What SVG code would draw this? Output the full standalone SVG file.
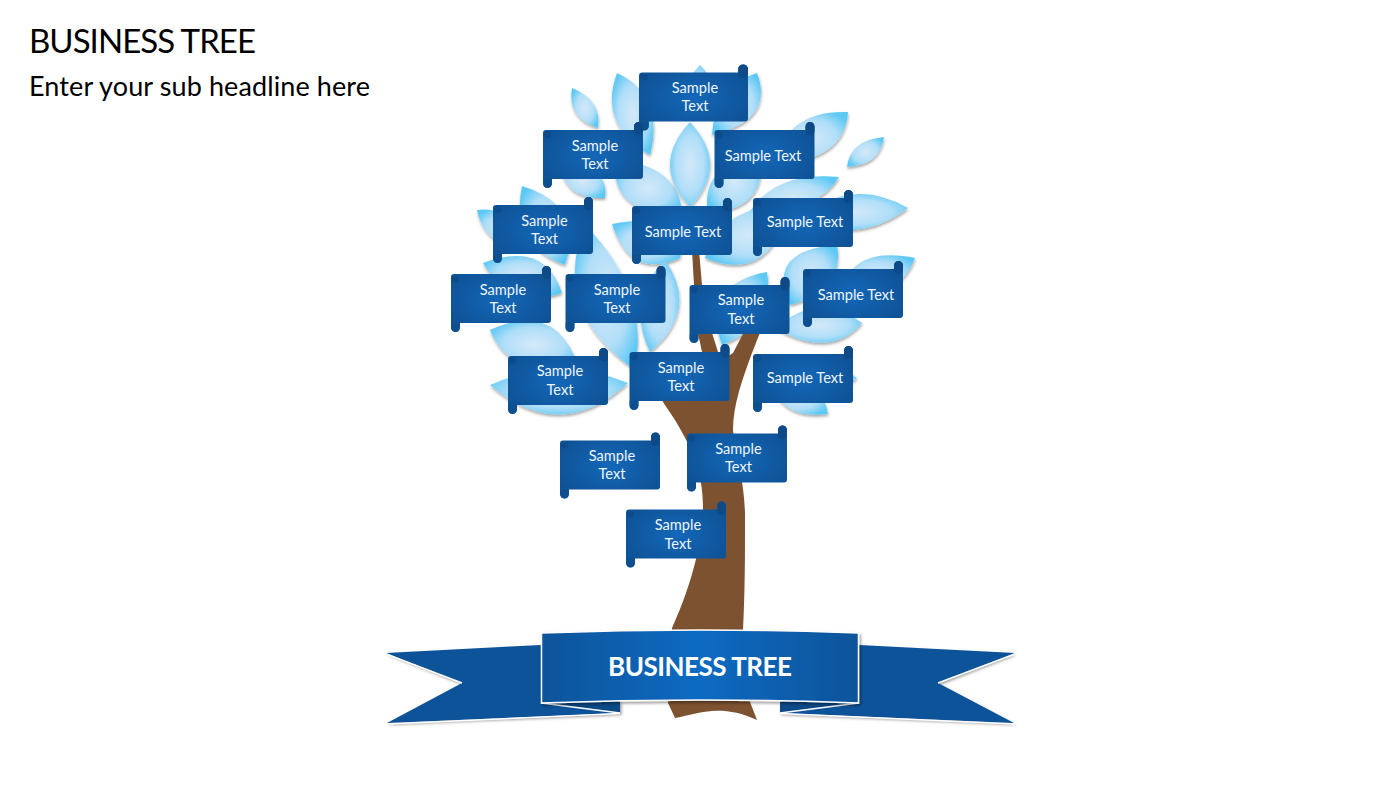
<svg xmlns="http://www.w3.org/2000/svg" xmlns:xlink="http://www.w3.org/1999/xlink" width="1400" height="788" viewBox="0 0 1400 788">
<style>
.title{font-family:Lato,"Liberation Sans",sans-serif;fill:#000}
.lf{fill:url(#leafG);filter:url(#ls)}
.t{font-family:Lato,"Liberation Sans",sans-serif;font-size:14.6px;fill:#eef6fb;text-anchor:middle}
.tail{fill:#0f5399;filter:url(#rs)}
.hl{fill:none;stroke:#fff;stroke-width:1.5}
.fold{fill:#0c4a86}
</style>
<defs>
<radialGradient id="leafG" cx="50%" cy="50%" r="58%"><stop offset="0" stop-color="#d4e9f9"/><stop offset=".6" stop-color="#b0def8"/><stop offset="1" stop-color="#5cc8f4"/></radialGradient>
<radialGradient id="cardG" cx="50%" cy="50%" r="55%"><stop offset="0" stop-color="#1367b8"/><stop offset="1" stop-color="#0f5397"/></radialGradient>
<linearGradient id="banG" x1="0" x2="1" y1="0" y2="0"><stop offset="0" stop-color="#10549a"/><stop offset=".5" stop-color="#106ac2"/><stop offset="1" stop-color="#10549a"/></linearGradient>
<filter id="ls" x="-20%" y="-20%" width="140%" height="140%"><feDropShadow dx="0.5" dy="2" stdDeviation="1.5" flood-color="#000" flood-opacity=".35"/></filter>
<filter id="rs" x="-5%" y="-10%" width="110%" height="125%"><feDropShadow dx="1.5" dy="2" stdDeviation="1.5" flood-color="#000" flood-opacity=".4"/></filter>
<g id="card">
<path fill="url(#cardG)" d="M3,0H91V-3.500A4.500,4.500 0 0 1 100,-3.500V46A3,3 0 0 1 97,49H9V53.500A4.500,4.500 0 0 1 0,53.500V3A3,3 0 0 1 3,0Z"/>
<path fill="#0d4a87" d="M91,0V-3.500A4.500,4.500 0 0 1 100,-3.500V1.500A4.500,4.500 0 0 1 91,0Z"/>
<circle cx="4.500" cy="4.500" r="3.500" fill="#0d4c8c"/>
<path fill="#0d4c8c" d="M0,49H9V53.500A4.500,4.500 0 0 1 0,53.500Z" opacity=".6"/>
</g>
</defs>

<rect width="1400" height="788" fill="#fff"/>
<text class="title" x="29" y="53" font-size="33" textLength="227" lengthAdjust="spacing">BUSINESS TREE</text>
<text class="title" x="29" y="96" font-size="27" textLength="341" lengthAdjust="spacing">Enter your sub headline here</text>

<g id="leaves">
<path class="lf" d="M572,88Q602,100 598,128Q567,118 572,88Z"/>
<path class="lf" d="M617,73Q665,95 650,155Q598,125 617,73Z"/>
<path class="lf" d="M700,65Q725,90 695,115Q675,90 700,65Z"/>
<path class="lf" d="M757,73Q775,120 712,135Q715,85 757,73Z"/>
<path class="lf" d="M848,112Q845,160 775,165Q785,110 848,112Z"/>
<path class="lf" d="M884,137Q880,165 847,167Q850,140 884,137Z"/>
<path class="lf" d="M839,177Q820,210 745,220Q770,170 839,177Z"/>
<path class="lf" d="M708,213Q770,210 760,150Q700,165 708,213Z"/>
<path class="lf" d="M908,208Q860,245 800,220Q850,175 908,208Z"/>
<path class="lf" d="M705,258Q770,285 790,205Q720,205 705,258Z"/>
<path class="lf" d="M915,258Q900,300 840,295Q850,245 915,258Z"/>
<path class="lf" d="M837,245Q845,290 790,305Q765,250 837,245Z"/>
<path class="lf" d="M862,323Q830,360 775,328Q820,290 862,323Z"/>
<path class="lf" d="M767,272Q775,325 722,345Q700,285 767,272Z"/>
<path class="lf" d="M857,378Q830,400 800,380Q830,355 857,378Z"/>
<path class="lf" d="M828,414Q780,420 770,380Q820,370 828,414Z"/>
<path class="lf" d="M477,210Q510,205 530,245Q485,250 477,210Z"/>
<path class="lf" d="M522,186Q585,205 565,265Q510,245 522,186Z"/>
<path class="lf" d="M560,165Q610,165 605,198Q565,200 560,165Z"/>
<path class="lf" d="M615,160Q680,165 682,215Q610,215 615,160Z"/>
<path class="lf" d="M612,224Q690,210 680,258Q630,280 612,224Z"/>
<path class="lf" d="M585,225Q650,290 635,370Q550,310 585,225Z"/>
<path class="lf" d="M665,260Q700,310 650,352Q625,300 665,260Z"/>
<path class="lf" d="M483,263Q545,240 562,293Q510,310 483,263Z"/>
<path class="lf" d="M490,330Q555,300 578,365Q510,380 490,330Z"/>
<path class="lf" d="M490,385Q560,355 628,383Q560,445 490,385Z"/>
<path class="lf" d="M690,122Q730,165 690,207Q650,165 690,122Z"/>
</g>

<g id="trunk">
<path fill="#7d5230" d="M672,628C685,600 703,550 703,507C703,470 690,445 675,420L663,402L650,375L690,370L702,352L698,333L694,285L692,250H699L702,285L708,325L712,333L718,352L725,358L733,353L745,330H761L752,353C742,380 733,405 733,430C735,455 745,480 745,517C745,560 745,590 743,630L750,702L757,720C740,712 725,710 712,711C700,712 690,715 675,718L668,703Z"/>
</g>

<g id="ribbon">
<path class="tail" d="M386,653L541,645L620,702V713L387,723L462,683Z"/>
<path class="tail" d="M1015,653L859,645L780,702V713L1014,723L938,683Z"/>
<path class="hl" d="M386,654L462,683"/>
<path class="hl" d="M387,724L620,713.500"/>
<path class="hl" d="M1015,654L938,683"/>
<path class="hl" d="M1014,724L780,713.500"/>
<path class="fold" d="M541,703L620,713V702Z"/>
<path class="fold" d="M859,703L780,713V702Z"/>
<path class="hl" d="M541,703L620,713"/>
<path class="hl" d="M859,703L780,713"/>
<path fill="url(#banG)" stroke="#fff" stroke-width="1.5" filter="url(#rs)" d="M541.500,633Q700,627 858.500,633V703Q700,697 541.500,703Z"/>
<text x="700" y="676" font-family="Lato,'Liberation Sans',sans-serif" font-size="26" font-weight="700" fill="#fff" text-anchor="middle" textLength="184" lengthAdjust="spacing">BUSINESS TREE</text>
</g>

<g id="n1"><use href="#card" transform="translate(639 72.500) scale(1.090 1)"/><text class="t" x="695" y="93">Sample</text><text class="t" x="695" y="111">Text</text></g>
<g id="n2"><use href="#card" x="543" y="130"/><text class="t" x="595" y="151">Sample</text><text class="t" x="595" y="169">Text</text></g>
<g id="n3"><use href="#card" x="714.500" y="130"/><text class="t" x="763" y="161">Sample Text</text></g>
<g id="n4"><use href="#card" x="493" y="205"/><text class="t" x="544.500" y="226">Sample</text><text class="t" x="544.500" y="244">Text</text></g>
<g id="n5"><use href="#card" x="632" y="206"/><text class="t" x="683" y="237">Sample Text</text></g>
<g id="n6"><use href="#card" x="753" y="198"/><text class="t" x="805" y="227">Sample Text</text></g>
<g id="n7"><use href="#card" x="451" y="274"/><text class="t" x="503" y="295">Sample</text><text class="t" x="503" y="313">Text</text></g>
<g id="n8"><use href="#card" x="565.500" y="274"/><text class="t" x="617" y="295">Sample</text><text class="t" x="617" y="313">Text</text></g>
<g id="n9"><use href="#card" x="689.500" y="285"/><text class="t" x="741" y="305">Sample</text><text class="t" x="741" y="324">Text</text></g>
<g id="n10"><use href="#card" x="803" y="269"/><text class="t" x="856" y="300">Sample Text</text></g>
<g id="n11"><use href="#card" x="508" y="356"/><text class="t" x="560" y="376">Sample</text><text class="t" x="560" y="395">Text</text></g>
<g id="n12"><use href="#card" x="629.500" y="352"/><text class="t" x="681" y="373">Sample</text><text class="t" x="681" y="391">Text</text></g>
<g id="n13"><use href="#card" x="753" y="354"/><text class="t" x="805" y="383">Sample Text</text></g>
<g id="n14"><use href="#card" x="560" y="440.500"/><text class="t" x="612" y="461">Sample</text><text class="t" x="612" y="479">Text</text></g>
<g id="n15"><use href="#card" x="687" y="433.500"/><text class="t" x="738.500" y="454">Sample</text><text class="t" x="738.500" y="472">Text</text></g>
<g id="n16"><use href="#card" x="626" y="509.500"/><text class="t" x="678" y="530">Sample</text><text class="t" x="678" y="549">Text</text></g>
</svg>
